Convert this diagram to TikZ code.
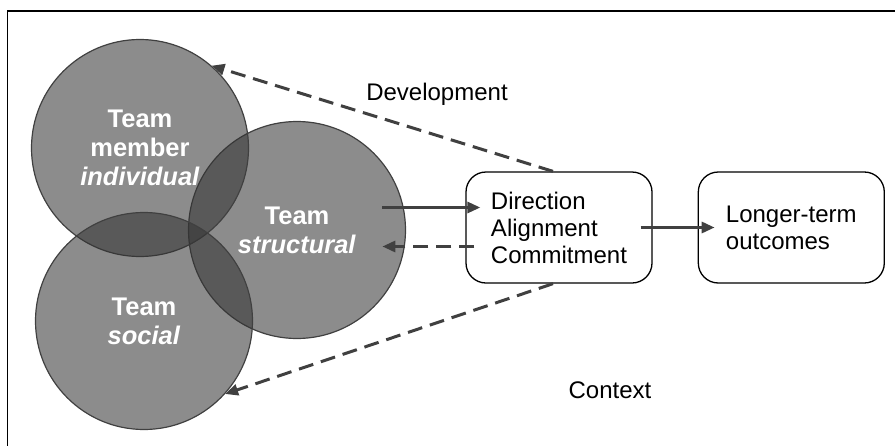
\documentclass[tikz,border=0pt]{standalone}
\usepackage{fontspec}
\setmainfont{Liberation Sans}
\usetikzlibrary{positioning,arrows.meta}
\tikzset{
	>={Triangle[length=13pt,width=11pt]},
	node distance=45pt,
	team/.style={circle, draw=ink, line width=1.2pt, fill=black!80, fill opacity=0.565,
		text opacity=1, text=white, minimum size=217pt, inner sep=0pt, align=center,
		font=\fontsize{25.5}{29}\selectfont\bfseries},
	box/.style={draw, line width=1.3pt, rounded corners=20pt, minimum width=186pt,
		minimum height=111pt, align=left, font=\fontsize{24}{27}\selectfont},
	flow/.style={->, draw=ink, line width=3pt},
	back/.style={flow, dash pattern=on 15pt off 8pt},
	lbl/.style={font=\fontsize{24}{27}\selectfont},
}
\definecolor{ink}{HTML}{404040}

\begin{document}
\begin{tikzpicture}[x=1pt,y=-1pt]
		\useasboundingbox (0,0) rectangle (895,445);
		\clip (0,0) rectangle (895,445);
		\draw[line width=1.2pt] (7.5,11) rectangle (910,460);

		\node[team] (str) at (297,230) {Team\\\textit{structural}};
		\node[team] (ind) at (140,148) {Team\\member\\\textit{individual}};
		\node[team] (soc) at (144,321) {Team\\\textit{social}};

		\node[box] (dac) at (559,227.5) {Direction\\Alignment\\Commitment};
		\node[box, right=of dac] (lto) {Longer-term\\outcomes};

		\node[lbl] (dev) at (437,94) {Development};
		\node[lbl] (ctx) at (610,390) {Context};

		\draw ([xshift=-83pt,yshift=20pt]dac.west) edge[flow] ([xshift=15pt,yshift=20pt]dac.west)
		([xshift=9pt,yshift=-19pt]dac.west) edge[back] ([xshift=-83pt,yshift=-19pt]dac.west)
		(dac) edge[flow, shorten <=-12pt, shorten >=-17pt] (lto)
		([xshift=-6pt]dac.north) edge[back] (ind.49)
		([xshift=-6pt]dac.south) edge[back] (soc.-42);
	\end{tikzpicture}
\end{document}
